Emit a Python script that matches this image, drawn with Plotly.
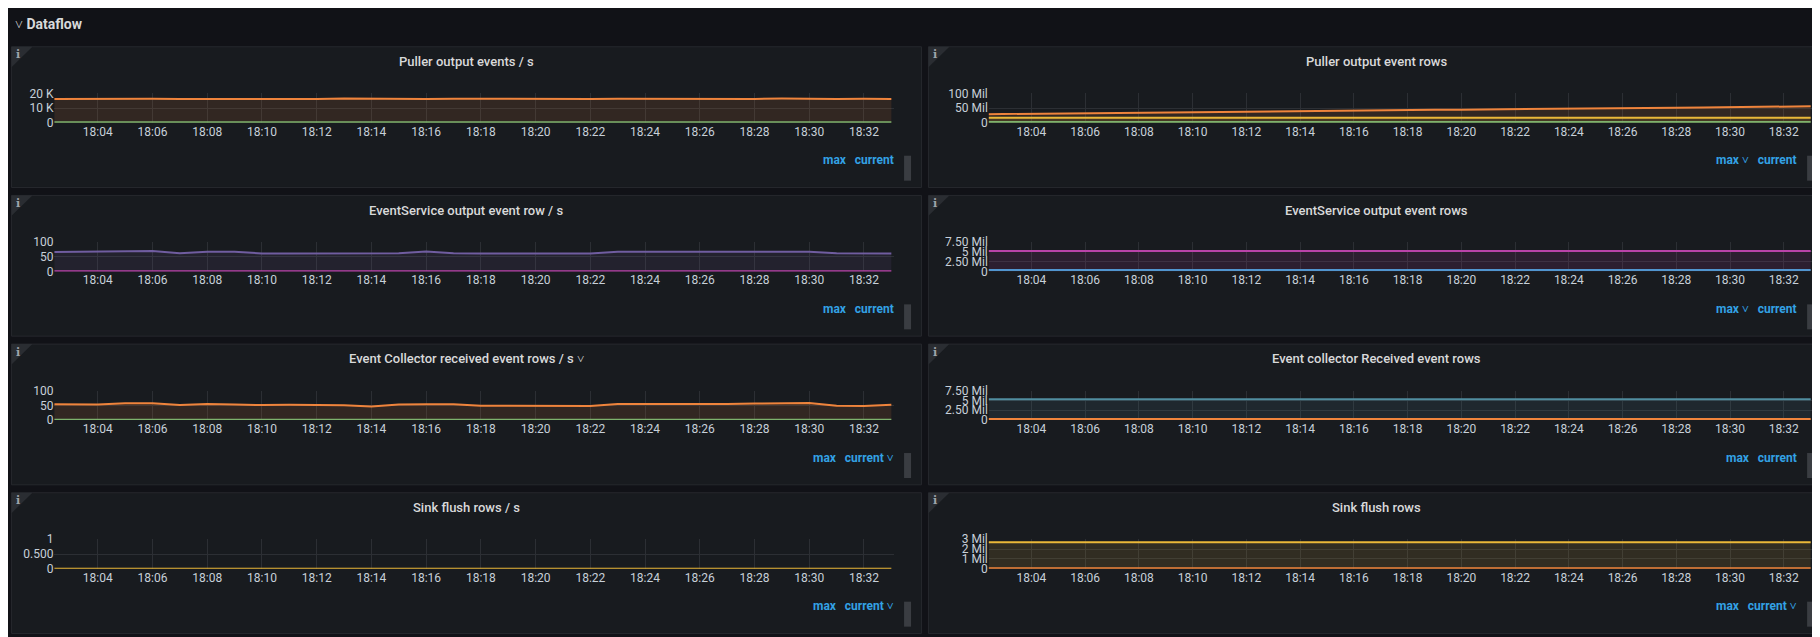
import pandas as pd
import plotly.graph_objects as go

W, H = 1820, 637
SX, SY = 1568.0, 549.0  # layout measured in reference px

times = pd.date_range("2024-01-01 18:02", "2024-01-01 18:33", freq="1min")
tick_times = pd.date_range("2024-01-01 18:04", "2024-01-01 18:32", freq="2min")

# --- series values (one per minute, 18:02 .. 18:33) ---
puller_events_a = [16200, 16300, 16100, 16200, 16300, 16200, 16100, 16300, 16400, 16200, 16100, 16500, 16300, 16200, 16100,
                   16300, 16200, 16200, 16100, 16300, 16200, 16300, 16200, 16100, 16200, 16300, 16200, 16400, 16200, 16100, 16300, 16200]
puller_events_b = [300] * 32
puller_rows_a = [29, 30, 31, 32, 33, 33.5, 34, 35, 36, 37, 38, 39, 39.5, 40, 41, 42, 43, 44, 44.5, 45, 46, 47, 48, 49, 49.5,
                 50, 51, 52, 53, 54, 55, 56]
puller_rows_a = [v * 1e6 for v in puller_rows_a]
puller_rows_b = [17e6] * 32
puller_rows_c = [3e6] * 32
es_rate_a = [66, 67, 67, 68, 69, 62, 67, 67, 61, 61, 61, 62, 62, 62, 68, 62, 61, 62, 61, 61, 61, 67, 67, 66, 68, 67, 66, 66,
             67, 62, 61, 61]
es_rate_b = [1] * 32
es_rows_a = [5.2e6] * 32
es_rows_b = [0.4e6] * 32
ec_rate_a = [54, 53, 53, 57, 57, 51, 55, 53, 51, 52, 52, 50, 46, 53, 54, 54, 49, 49, 50, 50, 48, 55, 55, 53, 55, 55, 56, 56,
             58, 49, 48, 52]
ec_rate_b = [1] * 32
ec_rows_a = [5.3e6] * 32
ec_rows_b = [0.3e6] * 32
sink_rate = [0] * 32
sink_rows_a = [2.7e6] * 32
sink_rows_b = [0.05e6] * 32

GREEN, YELLOW, BLUE, ORANGE = "#7EB26D", "#EAB839", "#6ED0E0", "#EF843C"
PURPLE, VIOLET, DBLUE, TEAL = "#BA43A9", "#705DA0", "#5195CE", "#508EA0"

panels = [
    ("Puller output events / s", [(puller_events_a, ORANGE), (puller_events_b, GREEN)],
     [0, 10000, 20000], ["0", "10 K", "20 K"], 20000, "max", "current"),
    ("Puller output event rows", [(puller_rows_a, ORANGE), (puller_rows_b, YELLOW), (puller_rows_c, GREEN)],
     [0, 50e6, 100e6], ["0", "50 Mil", "100 Mil"], 100e6, "max ˅", "current"),
    ("EventService output event row / s", [(es_rate_a, VIOLET), (es_rate_b, PURPLE)],
     [0, 50, 100], ["0", "50", "100"], 100, "max", "current"),
    ("EventService output event rows", [(es_rows_a, PURPLE), (es_rows_b, DBLUE)],
     [0, 2.5e6, 5e6, 7.5e6], ["0", "2.50 Mil", "5 Mil", "7.50 Mil"], 7.5e6, "max ˅", "current"),
    ("Event Collector received event rows / s ˅", [(ec_rate_a, ORANGE), (ec_rate_b, GREEN)],
     [0, 50, 100], ["0", "50", "100"], 100, "max", "current ˅"),
    ("Event collector Received event rows", [(ec_rows_a, TEAL), (ec_rows_b, ORANGE)],
     [0, 2.5e6, 5e6, 7.5e6], ["0", "2.50 Mil", "5 Mil", "7.50 Mil"], 7.5e6, "max", "current"),
    ("Sink flush rows / s", [(sink_rate, YELLOW)],
     [0, 0.5, 1], ["0", "0.500", "1"], 1, "max", "current ˅"),
    ("Sink flush rows", [(sink_rows_a, YELLOW), (sink_rows_b, ORANGE)],
     [0, 1e6, 2e6, 3e6], ["0", "1 Mil", "2 Mil", "3 Mil"], 3e6, "max", "current ˅"),
]

def px(x):
    return x / SX

def py(y):
    return 1 - y / SY

def rgba(hexc, a):
    h = hexc.lstrip("#")
    return "rgba(%d,%d,%d,%s)" % (int(h[0:2], 16), int(h[2:4], 16), int(h[4:6], 16), a)

fig = go.Figure()
shapes, annotations = [], []
cols = [(3, 787, 40, 763), (793, 1565, 845, 1555)]
row_tops = [28, 159, 290, 421]

for i, (title, series, tv, tt, ymax, leg1, leg2) in enumerate(panels):
    r, c = divmod(i, 2)
    x0, x1, d0, d1 = cols[c]
    top = row_tops[r]
    n = i + 1
    xa = "x" if n == 1 else "x%d" % n
    ya = "y" if n == 1 else "y%d" % n
    shapes.append(dict(type="rect", xref="paper", yref="paper", x0=px(x0), x1=px(x1), y0=py(top + 124), y1=py(top),
                       fillcolor="#181b1f", line=dict(color="#26282d", width=1), layer="below"))
    shapes.append(dict(type="path", xref="paper", yref="paper",
                       path="M %f %f L %f %f L %f %f Z" % (px(x0), py(top), px(x0 + 18), py(top), px(x0), py(top + 18)),
                       fillcolor="#2a2d32", line=dict(width=0), layer="below"))
    shapes.append(dict(type="rect", xref="paper", yref="paper", x0=px(x1 - 15), x1=px(x1 - 9), y0=py(top + 118),
                       y1=py(top + 96), fillcolor="#3a3d42", line=dict(width=0), layer="below"))
    annotations.append(dict(text="<b>i</b>", xref="paper", yref="paper", x=px(x0 + 6), y=py(top + 7), showarrow=False,
                            font=dict(size=11, color="#9fa4ab", family="DejaVu Serif"), xanchor="center", yanchor="middle"))
    annotations.append(dict(text=title, xref="paper", yref="paper", x=px((x0 + x1) / 2), y=py(top + 13),
                            showarrow=False, font=dict(size=13, color="#d8d9da", family="Roboto", weight=500),
                            xanchor="center", yanchor="middle"))
    annotations.append(dict(text="<b>%s</b>&nbsp;&nbsp;&nbsp;<b>%s</b>" % (leg1, leg2), xref="paper", yref="paper",
                            x=px(x1 - 22), y=py(top + 100), showarrow=False,
                            font=dict(size=12, color="#33a2e5", family="Roboto"), xanchor="right", yanchor="middle"))
    for vals, col in series:
        fig.add_trace(go.Scatter(x=times, y=vals, mode="lines", xaxis=xa, yaxis=ya, showlegend=False,
                                 line=dict(color=col, width=2), fill="tozeroy", fillcolor=rgba(col, 0.12)))
    axis_common = dict(gridcolor="#2c2f34", zeroline=False, showline=False,
                       tickfont=dict(size=12, color="#c7d0d9", family="Roboto"))
    fig.layout["xaxis" if n == 1 else "xaxis%d" % n] = dict(
        domain=[px(d0), px(d1)], anchor=ya, range=["2024-01-01 18:02:25", "2024-01-01 18:33:05"],
        tickvals=tick_times, ticktext=[t.strftime("%H:%M") for t in tick_times], ticklen=0, **axis_common)
    fig.layout["yaxis" if n == 1 else "yaxis%d" % n] = dict(
        domain=[py(top + 67), py(top + 41)], anchor=xa, range=[0, ymax], tickvals=tv, ticktext=tt, **axis_common)

annotations.append(dict(text="˅ <b>Dataflow</b>", xref="paper", yref="paper", x=px(4), y=py(8), showarrow=False,
                        font=dict(size=14, color="#d8d9da", family="Roboto"), xanchor="left", yanchor="middle"))

fig.update_layout(width=W, height=H, margin=dict(l=0, r=0, t=0, b=0), paper_bgcolor="#111217",
                  plot_bgcolor="rgba(0,0,0,0)", shapes=shapes, annotations=annotations)
fig.write_html("out.html")
